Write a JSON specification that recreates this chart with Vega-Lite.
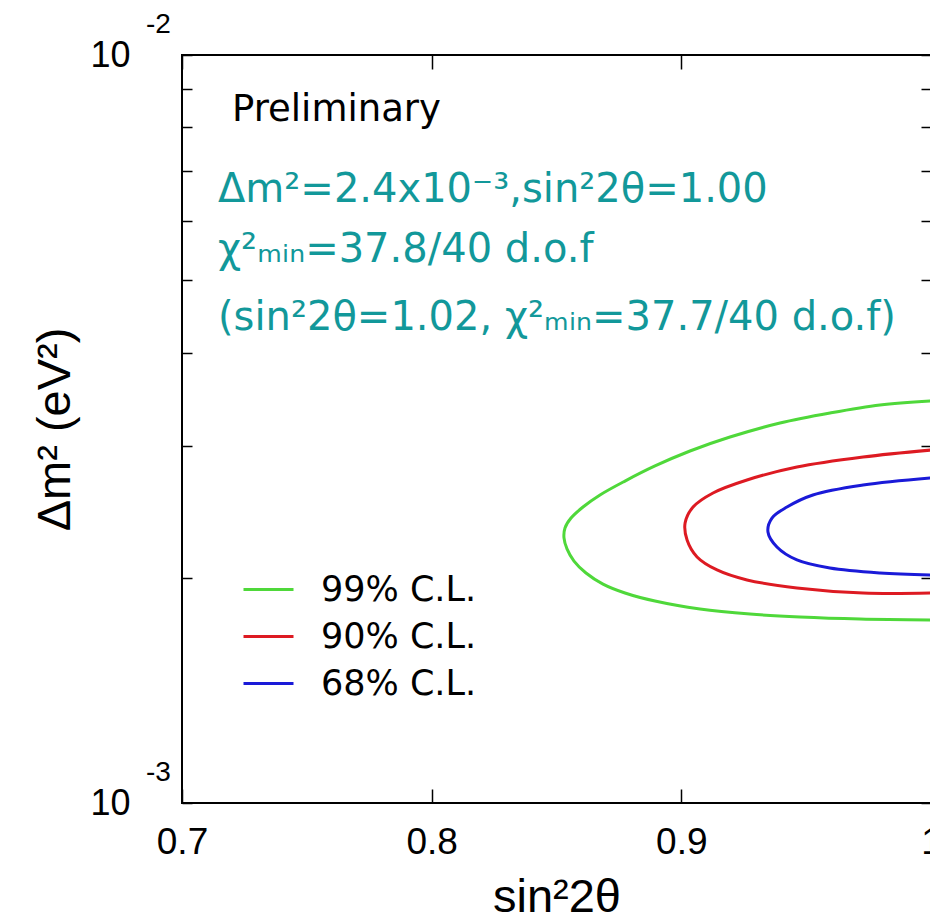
{
  "$schema": "https://vega.github.io/schema/vega-lite/v6.json",
  "width": 749,
  "height": 748,
  "autosize": {"type": "none"},
  "padding": {"left": 182, "top": 55, "right": 0, "bottom": 121},
  "background": "white",
  "config": {
    "font": "Liberation Sans",
    "view": {"stroke": "black", "strokeWidth": 2}
  },
  "datasets": {
    "contours": [
      {"cl": "99% C.L.", "i": 0, "s": 1.0, "dm": 0.003447},
      {"cl": "99% C.L.", "i": 1, "s": 0.97957, "dm": 0.003405},
      {"cl": "99% C.L.", "i": 2, "s": 0.95954, "dm": 0.003322},
      {"cl": "99% C.L.", "i": 3, "s": 0.93952, "dm": 0.003221},
      {"cl": "99% C.L.", "i": 4, "s": 0.91949, "dm": 0.003085},
      {"cl": "99% C.L.", "i": 5, "s": 0.90347, "dm": 0.002955},
      {"cl": "99% C.L.", "i": 6, "s": 0.88945, "dm": 0.002822},
      {"cl": "99% C.L.", "i": 7, "s": 0.87743, "dm": 0.002694},
      {"cl": "99% C.L.", "i": 8, "s": 0.86742, "dm": 0.002581},
      {"cl": "99% C.L.", "i": 9, "s": 0.86061, "dm": 0.002487},
      {"cl": "99% C.L.", "i": 10, "s": 0.85581, "dm": 0.002404},
      {"cl": "99% C.L.", "i": 11, "s": 0.85340, "dm": 0.002332},
      {"cl": "99% C.L.", "i": 12, "s": 0.85300, "dm": 0.002261},
      {"cl": "99% C.L.", "i": 13, "s": 0.85420, "dm": 0.002186},
      {"cl": "99% C.L.", "i": 14, "s": 0.85701, "dm": 0.002106},
      {"cl": "99% C.L.", "i": 15, "s": 0.86181, "dm": 0.002030},
      {"cl": "99% C.L.", "i": 16, "s": 0.86862, "dm": 0.001962},
      {"cl": "99% C.L.", "i": 17, "s": 0.87743, "dm": 0.001909},
      {"cl": "99% C.L.", "i": 18, "s": 0.88945, "dm": 0.001862},
      {"cl": "99% C.L.", "i": 19, "s": 0.90747, "dm": 0.001817},
      {"cl": "99% C.L.", "i": 20, "s": 0.92750, "dm": 0.001789},
      {"cl": "99% C.L.", "i": 21, "s": 0.94753, "dm": 0.001773},
      {"cl": "99% C.L.", "i": 22, "s": 0.97156, "dm": 0.001762},
      {"cl": "99% C.L.", "i": 23, "s": 1.0, "dm": 0.001757},
      {"cl": "90% C.L.", "i": 0, "s": 1.0, "dm": 0.002964},
      {"cl": "90% C.L.", "i": 1, "s": 0.9728, "dm": 0.002901},
      {"cl": "90% C.L.", "i": 2, "s": 0.9463, "dm": 0.002813},
      {"cl": "90% C.L.", "i": 3, "s": 0.9263, "dm": 0.002703},
      {"cl": "90% C.L.", "i": 4, "s": 0.9127, "dm": 0.002597},
      {"cl": "90% C.L.", "i": 5, "s": 0.9047, "dm": 0.002487},
      {"cl": "90% C.L.", "i": 6, "s": 0.9015, "dm": 0.002367},
      {"cl": "90% C.L.", "i": 7, "s": 0.9023, "dm": 0.002247},
      {"cl": "90% C.L.", "i": 8, "s": 0.9063, "dm": 0.002133},
      {"cl": "90% C.L.", "i": 9, "s": 0.9143, "dm": 0.002049},
      {"cl": "90% C.L.", "i": 10, "s": 0.9263, "dm": 0.001987},
      {"cl": "90% C.L.", "i": 11, "s": 0.9463, "dm": 0.001939},
      {"cl": "90% C.L.", "i": 12, "s": 0.9728, "dm": 0.001909},
      {"cl": "90% C.L.", "i": 13, "s": 1.0, "dm": 0.001909},
      {"cl": "68% C.L.", "i": 0, "s": 1.0, "dm": 0.002720},
      {"cl": "68% C.L.", "i": 1, "s": 0.9728, "dm": 0.002661},
      {"cl": "68% C.L.", "i": 2, "s": 0.9527, "dm": 0.002581},
      {"cl": "68% C.L.", "i": 3, "s": 0.9423, "dm": 0.002487},
      {"cl": "68% C.L.", "i": 4, "s": 0.9363, "dm": 0.002404},
      {"cl": "68% C.L.", "i": 5, "s": 0.9347, "dm": 0.002303},
      {"cl": "68% C.L.", "i": 6, "s": 0.9383, "dm": 0.002199},
      {"cl": "68% C.L.", "i": 7, "s": 0.9463, "dm": 0.002113},
      {"cl": "68% C.L.", "i": 8, "s": 0.9595, "dm": 0.002061},
      {"cl": "68% C.L.", "i": 9, "s": 0.9796, "dm": 0.002030},
      {"cl": "68% C.L.", "i": 10, "s": 1.0, "dm": 0.002018}
    ],
    "exponents": [
      {"s": 0.7, "dm": 0.01, "t": "-2"},
      {"s": 0.7, "dm": 0.001, "t": "-3"}
    ],
    "fitNotes": [
      {"s": 0.71442, "dm": 0.006600, "t": "Δm²=2.4x10⁻³,sin²2θ=1.00"},
      {"s": 0.71442, "dm": 0.005487, "t": "χ²ₘᵢₙ=37.8/40 d.o.f"},
      {"s": 0.71442, "dm": 0.004450, "t": "(sin²2θ=1.02, χ²ₘᵢₙ=37.7/40 d.o.f)"}
    ],
    "status": [
      {"s": 0.72003, "dm": 0.008441, "t": "Preliminary"}
    ]
  },
  "layer": [
    {
      "data": {"name": "contours"},
      "mark": {"type": "line", "strokeWidth": 3, "clip": true, "interpolate": "catmull-rom"},
      "encoding": {
        "x": {
          "field": "s",
          "type": "quantitative",
          "scale": {"domain": [0.7, 1.0], "nice": false, "zero": false},
          "axis": {
            "orient": "bottom",
            "values": [0.7, 0.8, 0.9, 1.0],
            "labelExpr": "datum.value > 0.999 ? '1' : format(datum.value, '.1f')",
            "labelFont": "Liberation Sans",
            "labelFontSize": 37,
            "labelColor": "black",
            "labelPadding": 35,
            "labelFlush": false,
            "labelOverlap": false,
            "labelBound": false,
            "tickSize": -14,
            "tickColor": "black",
            "tickWidth": 1.5,
            "domain": false,
            "grid": false,
            "title": "sin²2θ",
            "titleFont": "Liberation Sans",
            "titleFontSize": 47,
            "titleFontWeight": "normal",
            "titleColor": "black",
            "titlePadding": 14
          }
        },
        "y": {
          "field": "dm",
          "type": "quantitative",
          "scale": {"type": "log", "domain": [0.001, 0.01], "nice": false},
          "axis": {
            "orient": "left",
            "values": [0.001, 0.002, 0.003, 0.004, 0.005, 0.006, 0.007, 0.008, 0.009, 0.01],
            "labelExpr": "(datum.value < 0.0011 || datum.value > 0.0099) ? '10' : ''",
            "labelFont": "Liberation Sans",
            "labelFontSize": 36,
            "labelColor": "black",
            "labelPadding": 62,
            "labelOverlap": false,
            "labelBound": false,
            "tickSize": -10,
            "tickColor": "black",
            "tickWidth": 1.5,
            "domain": false,
            "grid": false,
            "title": "Δm² (eV²)",
            "titleFont": "Liberation Sans",
            "titleFontSize": 47,
            "titleFontWeight": "normal",
            "titleColor": "black",
            "titlePadding": 10
          }
        },
        "color": {
          "field": "cl",
          "type": "nominal",
          "scale": {
            "domain": ["99% C.L.", "90% C.L.", "68% C.L."],
            "range": ["#4fd83a", "#dd1a22", "#1a1ad8"]
          },
          "legend": {
            "orient": "none",
            "legendX": 60,
            "legendY": 511,
            "title": null,
            "symbolType": "stroke",
            "symbolSize": 2500,
            "symbolStrokeWidth": 3,
            "clipHeight": 47,
            "rowPadding": 0,
            "labelFont": "DejaVu Sans",
            "labelFontSize": 35,
            "labelColor": "black",
            "labelOffset": 26
          }
        },
        "order": {"field": "i", "type": "quantitative"}
      }
    },
    {
      "data": {"name": "exponents"},
      "mark": {"type": "text", "align": "left", "baseline": "alphabetic", "dx": -36, "dy": -22, "fontSize": 28, "font": "Liberation Sans", "color": "black"},
      "encoding": {
        "x": {
          "field": "s",
          "type": "quantitative",
          "axis": {
            "orient": "top",
            "values": [0.7, 0.8, 0.9, 1.0],
            "labels": false,
            "tickSize": -14,
            "tickColor": "black",
            "tickWidth": 1.5,
            "domain": false,
            "grid": false,
            "title": null
          }
        },
        "y": {
          "field": "dm",
          "type": "quantitative",
          "axis": {
            "orient": "right",
            "values": [0.001, 0.002, 0.003, 0.004, 0.005, 0.006, 0.007, 0.008, 0.009, 0.01],
            "labels": false,
            "tickSize": -10,
            "tickColor": "black",
            "tickWidth": 1.5,
            "domain": false,
            "grid": false,
            "title": null
          }
        },
        "text": {"field": "t"}
      }
    },
    {
      "data": {"name": "status"},
      "mark": {"type": "text", "align": "left", "baseline": "middle", "fontSize": 37, "font": "DejaVu Sans", "color": "black"},
      "encoding": {
        "x": {"field": "s", "type": "quantitative", "axis": null},
        "y": {"field": "dm", "type": "quantitative", "axis": null},
        "text": {"field": "t"}
      }
    },
    {
      "data": {"name": "fitNotes"},
      "mark": {"type": "text", "align": "left", "baseline": "middle", "fontSize": 40, "font": "DejaVu Sans", "color": "#12989a"},
      "encoding": {
        "x": {"field": "s", "type": "quantitative", "axis": null},
        "y": {"field": "dm", "type": "quantitative", "axis": null},
        "text": {"field": "t"}
      }
    }
  ],
  "resolve": {"axis": {"x": "independent", "y": "independent"}}
}
